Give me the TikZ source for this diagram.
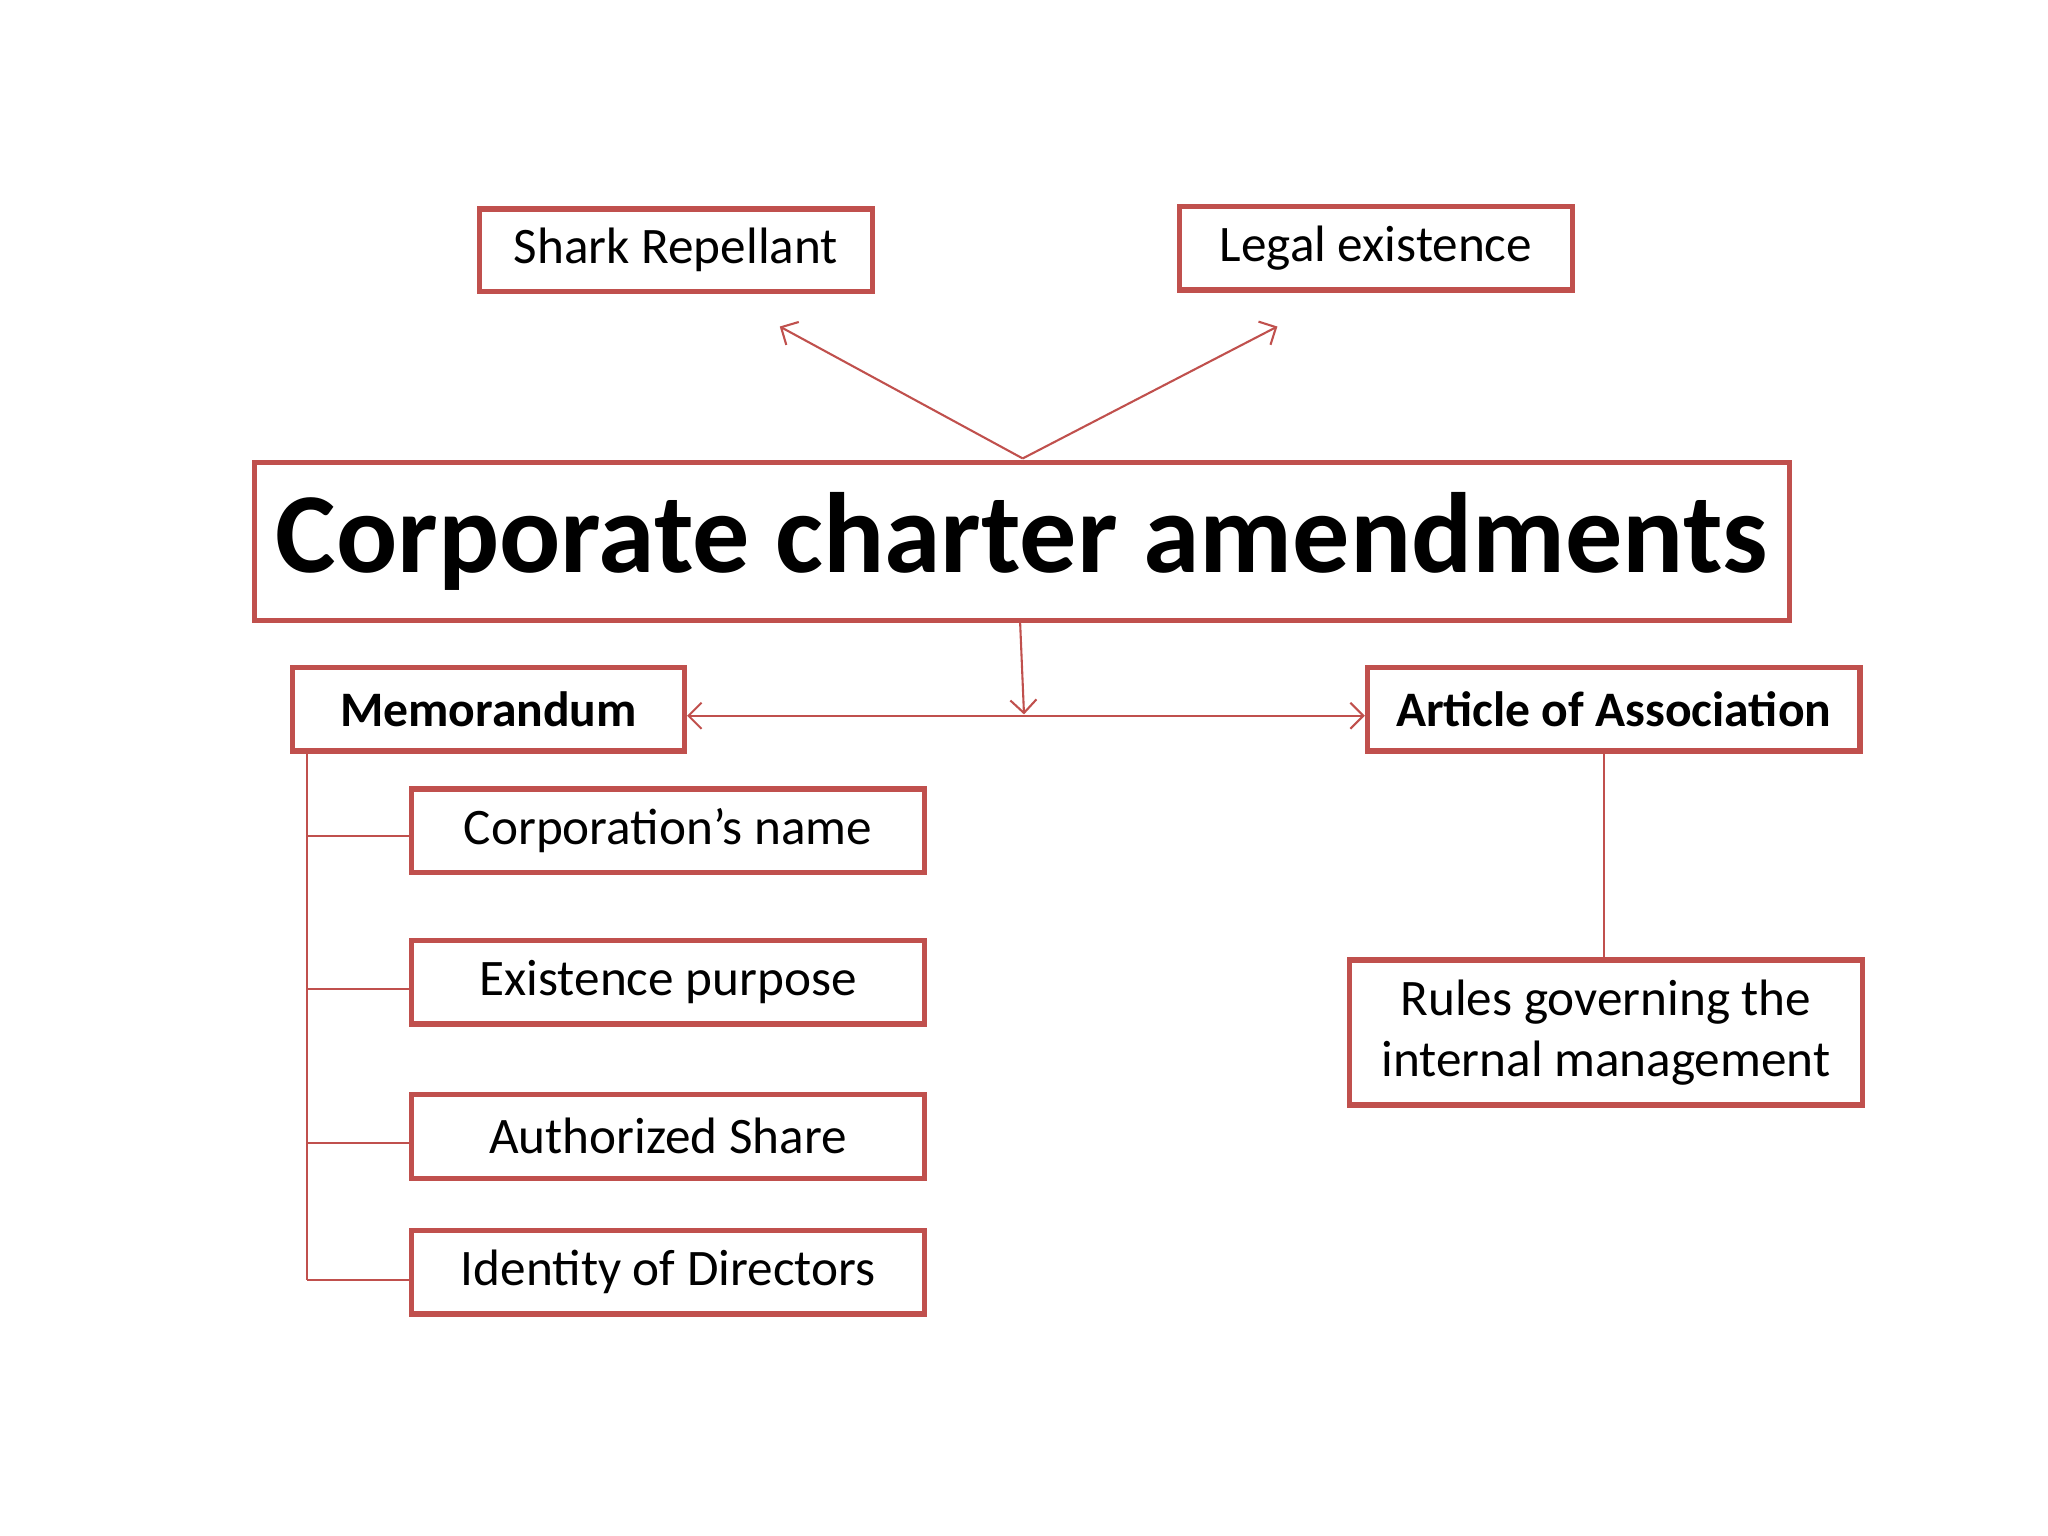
\documentclass[tikz,border=0pt]{standalone}
\usepackage{fontspec}
\setmainfont{Carlito}
\usetikzlibrary{arrows.meta}
\definecolor{red1}{RGB}{192,80,77}
\begin{document}
\begin{tikzpicture}[x=0.5pt,y=-0.5pt,
  box/.style={draw=red1,line width=2pt,inner sep=0pt,anchor=north west},
  txt/.style={font=\fontsize{19.6}{23}\selectfont},
  con/.style={draw=red1,line width=0.8pt},
  arr/.style={con,-{Straight Barb[length=5pt,width=10pt]}}]
\useasboundingbox (0,0) rectangle (1568,1176);
\node[box,txt,minimum width=150.5pt,minimum height=31.5pt] (shark) at (365,158) {Shark Repellant};
\node[box,txt,minimum width=150.5pt,minimum height=32pt] (legal) at (901,156) {Legal existence};
\node[box,minimum width=587.5pt,minimum height=60.5pt,font=\fontsize{43.7}{50}\selectfont\bfseries] (main) at (193,352) {Corporate charter amendments};
\node[box,txt,minimum width=150pt,minimum height=32pt,font=\fontsize{19}{22}\selectfont\bfseries] (memo) at (222,509) {Memorandum};
\node[box,txt,minimum width=188.5pt,minimum height=32pt,font=\fontsize{19}{22}\selectfont\bfseries] (art) at (1045,509) {Article of Association};
\node[box,txt,minimum width=196.5pt,minimum height=32pt] (c1) at (313,602) {Corporation’s name};
\node[box,txt,minimum width=196.5pt,minimum height=32pt] (c2) at (313,718) {Existence purpose};
\node[box,txt,minimum width=196.5pt,minimum height=32pt] (c3) at (313,836) {Authorized Share};
\node[box,txt,minimum width=196.5pt,minimum height=32pt] (c4) at (313,940) {Identity of Directors};
\node[box,txt,minimum width=196.5pt,minimum height=55.5pt,align=center,font=\fontsize{19.6}{23.5}\selectfont] (rules) at (1031,733) {Rules governing the\\internal management};
\coordinate (top) at (783,351);
\coordinate (ta) at (597,250);
\coordinate (tb) at (978,250);
\coordinate (dn) at (784,547);
\draw[arr] (top) -- (ta);
\draw[arr] (top) -- (tb);
\draw[arr] (781,476) -- (dn);
\draw[con,{Straight Barb[length=5pt,width=10pt]}-{Straight Barb[length=5pt,width=10pt]}] (memo.east |- 0,548) -- (art.west |- 0,548);
\coordinate (mb) at (235,573);
\coordinate (me) at (235,980);
\draw[con] (mb) -- (me);
\draw[con] (235,640) -- (c1.west |- 0,640);
\draw[con] (235,757) -- (c2.west |- 0,757);
\draw[con] (235,875) -- (c3.west |- 0,875);
\draw[con] (me) -- (c4.west |- 0,980);
\draw[con] (art.south -| 1228,0) -- (rules.north -| 1228,0);
\end{tikzpicture}
\end{document}
